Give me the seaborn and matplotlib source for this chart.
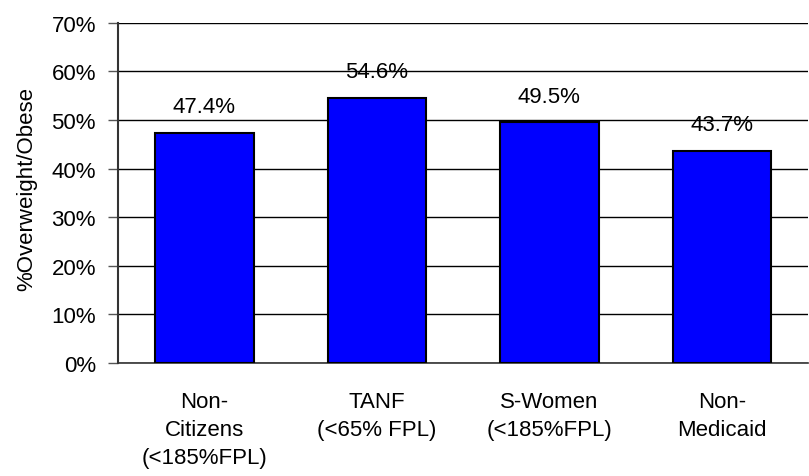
import numpy as np
import pandas as pd
import matplotlib
matplotlib.use("Agg")
import matplotlib.pyplot as plt
import seaborn as sns

groups = ["Non-\nCitizens\n(<185%FPL)", "TANF\n(<65% FPL)", "S-Women\n(<185%FPL)", "Non-\nMedicaid"]
pct_overweight = [47.4, 54.6, 49.5, 43.7]

df = pd.DataFrame({"group": groups, "pct": pct_overweight})

sns.set_style("white")
plt.rcParams['font.family'] = ['Liberation Sans', 'DejaVu Sans']
plt.rcParams['text.color'] = 'black'
plt.rcParams['xtick.color'] = 'black'
plt.rcParams['ytick.color'] = 'black'
plt.rcParams['axes.labelcolor'] = 'black'

fs = 16

fig = plt.figure(figsize=(8.09, 4.77), dpi=100)
ax = fig.add_axes([0.146, 0.237, 0.853, 0.713])

sns.barplot(data=df, x="group", y="pct", color="#0000FF", saturation=1,
            width=0.57, edgecolor="black", linewidth=1.5, ax=ax, zorder=3)

# value labels above bars
for i, v in enumerate(pct_overweight):
    ax.annotate("%.1f%%" % v, xy=(i, v), xytext=(0, 11), textcoords="offset points",
                ha="center", va="bottom", fontsize=fs, color="black")

ax.set_ylim(0, 70)
ax.set_xlim(-0.5, len(groups) - 0.5)
ax.set_yticks(np.arange(0, 71, 10))
ax.set_yticklabels(["%d%%" % t for t in range(0, 71, 10)], fontsize=fs)
ax.yaxis.grid(True, color="black", linewidth=1)
ax.set_axisbelow(True)

# category separators as minor ticks, labels at centers without ticks
ax.set_xticks(np.arange(-0.5, len(groups), 1), minor=True)
ax.tick_params(axis="x", which="minor", length=7, width=1, color="#555555", direction="out")
ax.tick_params(axis="x", which="major", length=0, pad=20, labelsize=fs)
ax.tick_params(axis="y", length=7, width=1, color="#555555", direction="out", pad=9, left=True)
for lab in ax.get_xticklabels():
    lab.set_linespacing(1.45)

ax.set_xlabel("")
ax.set_ylabel("%Overweight/Obese", fontsize=fs, labelpad=10)
ax.yaxis.label.set_y(0.515)

for side in ["top", "right"]:
    ax.spines[side].set_visible(False)
ax.spines["left"].set_color("#333333")
ax.spines["bottom"].set_color("#333333")
ax.spines["left"].set_linewidth(1.5)
ax.spines["bottom"].set_linewidth(1.2)

plt.savefig("out.png", dpi=100)
